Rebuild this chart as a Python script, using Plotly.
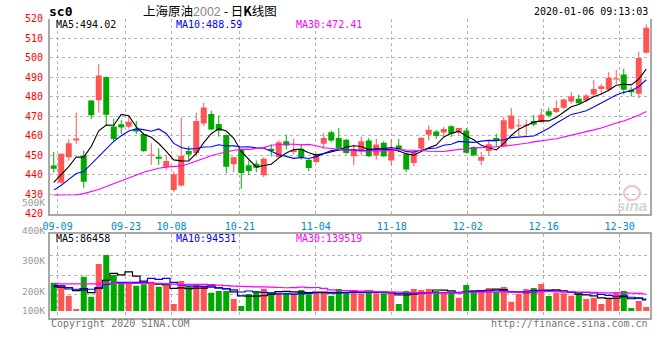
import plotly.graph_objects as go

# ---------------- data ----------------
tick_labels = ["09-09", "09-23", "10-08", "10-21", "11-04", "11-18", "12-02", "12-16", "12-30"]
tick_index = [1, 10, 16, 25, 35, 45, 55, 65, 75]

opens = [444.6, 435.8, 448.8, 457.5, 449.6, 478.0, 478.1, 490.0, 464.6, 465.8,
         464.5, 463.1, 460.8, 449.8, 449.1, 444.0, 432.1, 434.3, 452.0, 450.9,
         466.2, 471.0, 465.9, 460.2, 445.2, 452.9, 444.7, 445.5, 439.6, 453.2,
         448.9, 457.0, 451.5, 453.2, 447.6, 446.4, 455.8, 461.7, 458.7, 457.8,
         449.3, 451.8, 457.5, 449.8, 456.3, 447.2, 454.9, 450.6, 445.9, 453.2,
         460.4, 462.1, 461.6, 464.7, 461.8, 462.6, 454.1, 447.0, 452.1, 458.7,
         454.5, 463.5, 464.7, 465.0, 467.4, 466.9, 472.4, 472.0, 474.2, 477.5,
         478.8, 478.0, 481.0, 483.9, 483.4, 488.7, 491.3, 483.4, 481.4, 502.5]
highs = [451.6, 450.8, 458.0, 471.8, 452.3, 478.2, 496.6, 490.2, 468.6, 468.0,
         470.0, 467.4, 461.0, 456.0, 453.4, 450.0, 441.5, 469.3, 454.6, 471.7,
         476.8, 472.7, 470.3, 460.5, 449.2, 453.2, 447.2, 447.2, 448.9, 455.4,
         457.5, 460.5, 458.3, 455.8, 447.8, 451.0, 461.2, 462.6, 463.8, 458.3,
         455.3, 459.5, 458.7, 458.3, 457.0, 458.3, 458.3, 450.9, 452.7, 459.0,
         465.2, 462.9, 464.5, 465.2, 464.0, 463.8, 454.5, 451.6, 457.5, 460.9,
         469.5, 474.1, 468.6, 468.1, 470.6, 473.7, 474.2, 478.0, 478.8, 482.2,
         481.0, 481.4, 488.5, 486.5, 492.5, 493.6, 494.2, 484.8, 503.0, 517.0]
lows = [441.0, 435.3, 447.1, 455.8, 433.2, 468.5, 471.8, 464.8, 456.8, 460.8,
        463.5, 460.8, 451.5, 444.9, 444.9, 442.3, 430.9, 433.8, 447.4, 449.5,
        464.8, 462.8, 459.4, 440.6, 441.1, 432.7, 439.6, 441.3, 438.7, 449.3,
        448.6, 452.9, 450.3, 447.6, 441.8, 445.9, 453.2, 456.6, 452.4, 450.3,
        444.7, 449.8, 449.0, 447.6, 449.0, 444.7, 451.5, 441.3, 444.2, 452.4,
        457.5, 458.3, 459.5, 459.2, 460.1, 450.7, 449.4, 444.8, 449.9, 454.5,
        454.1, 463.0, 460.1, 460.4, 464.7, 466.4, 469.5, 471.5, 473.7, 476.3,
        476.3, 477.1, 479.7, 481.0, 482.7, 486.5, 481.0, 480.0, 479.2, 502.0]
closes = [443.0, 450.6, 456.0, 458.5, 436.3, 470.4, 490.8, 470.7, 458.2, 464.1,
          467.1, 462.0, 452.0, 450.3, 448.1, 446.9, 440.1, 449.5, 450.2, 467.4,
          474.4, 463.1, 462.5, 444.0, 448.8, 440.8, 441.8, 443.5, 448.1, 452.0,
          456.5, 454.9, 452.4, 448.9, 443.3, 450.3, 458.7, 457.5, 453.2, 451.0,
          453.2, 457.0, 449.3, 455.4, 449.3, 453.2, 452.9, 442.6, 451.5, 458.8,
          462.9, 459.7, 463.3, 460.9, 463.8, 451.1, 449.9, 449.0, 455.5, 457.5,
          467.8, 470.3, 465.2, 465.7, 465.7, 470.6, 470.3, 474.1, 478.5, 480.0,
          476.6, 480.5, 483.9, 485.3, 489.6, 489.4, 483.4, 482.2, 499.8, 515.3]
volumes = [229500, 210600, 124200, 16200, 278100, 116100, 380700, 453600, 291600, 224100,
           234900, 205200, 216000, 237600, 197100, 205200, 56700, 243000, 205200, 218700,
           205200, 148500, 162000, 162000, 97200, 40500, 137700, 162000, 180900, 153900,
           148500, 148500, 143100, 170100, 135000, 148500, 148500, 124200, 178200, 151200,
           170100, 143100, 162000, 143100, 143100, 143100, 56700, 162000, 178200, 170100,
           178200, 162000, 156600, 151200, 108000, 210600, 162000, 170100, 186300, 156600,
           194400, 75600, 137700, 178200, 186300, 218700, 121500, 148500, 143100, 124200,
           143100, 97200, 108000, 56700, 102600, 151200, 162000, 24300, 81000, 32400]

# moving-average values at the start of the window (read off the picture,
# they depend on sessions before the first candle)
ma5_head = [436.0, 440.0, 444.0, 449.0]
ma10_head = [432.0, 434.5, 437.5, 440.5, 441.5, 445.5, 449.5, 453.5, 457.0]
ma30_head = [429.5, 429.5, 429.5, 429.6, 430.2, 431.2, 432.3, 433.8, 435.3, 436.8,
             438.2, 439.8, 441.2, 442.2, 443.2, 443.8, 444.1, 444.4, 445.5, 446.9,
             448.4, 449.6, 450.6, 451.5, 452.4, 452.9, 452.9, 453.3, 453.8]
vma5_head = [197000, 192000, 178000, 165000]
vma10_head = [205000, 203000, 189000, 176000, 181000, 176000, 189000, 216000, 224000]
vma30_head = [219000, 219000, 219000, 219000, 219000, 219000, 220000, 222000, 224000, 224000,
              224000, 224000, 224000, 224000, 223000, 221000, 218000, 216000, 216000, 216000,
              215000, 213000, 210000, 206000, 202000, 199000, 197000, 196000, 195000]

price_ticks = [420, 430, 440, 450, 460, 470, 480, 490, 500, 510, 520]
vol_tick_text = ["500K", "400K", "300K", "200K", "100K"]
price_ma_text = ["MA5:494.02", "MA10:488.59", "MA30:472.41"]
vol_ma_text = ["MA5:86458", "MA10:94531", "MA30:139519"]

# ---------------- helpers ----------------
W, H = 660, 360
N = len(closes)
NSLOT = N


def px(x):
    return x / W


def py(y):
    return 1 - y / H


def moving(values, n, head):
    out = []
    for i in range(len(values)):
        if i >= n - 1:
            out.append(sum(values[i - n + 1:i + 1]) / n)
        else:
            out.append(head[i])
    return out


RED = "#ff5454"
GREEN = "#00a800"
MONO = "DejaVu Sans Mono"

xc = [i + 0.5 for i in range(N)]
up = [c >= o for o, c in zip(opens, closes)]
colors = [RED if u else GREEN for u in up]

ma5 = moving(closes, 5, ma5_head)
ma10 = moving(closes, 10, ma10_head)
ma30 = moving(closes, 30, ma30_head)
vma5 = moving(volumes, 5, vma5_head)
vma10 = moving(volumes, 10, vma10_head)
vma30 = moving(volumes, 30, vma30_head)

fig = go.Figure()

# wicks
for flag, col in ((True, RED), (False, GREEN)):
    wx, wy = [], []
    for i in range(N):
        if up[i] == flag:
            wx += [xc[i], xc[i], None]
            wy += [lows[i], highs[i], None]
    fig.add_trace(go.Scatter(x=wx, y=wy, mode="lines", line=dict(color=col, width=1),
                             hoverinfo="skip", showlegend=False, xaxis="x", yaxis="y"))

# bodies
body_base = [min(o, c) for o, c in zip(opens, closes)]
body_h = [max(abs(c - o), 0.45) for o, c in zip(opens, closes)]
fig.add_trace(go.Bar(x=xc, y=body_h, base=body_base, width=0.8,
                     marker=dict(color=colors, line=dict(width=0)),
                     showlegend=False, xaxis="x", yaxis="y"))

for series, col in ((ma5, "#000000"), (ma10, "#0000ff"), (ma30, "#ff00ff")):
    fig.add_trace(go.Scatter(x=xc, y=series, mode="lines", line=dict(color=col, width=1.1),
                             showlegend=False, hoverinfo="skip", xaxis="x", yaxis="y"))

# volume
fig.add_trace(go.Bar(x=xc, y=volumes, width=0.8, marker=dict(color=colors, line=dict(width=0)),
                     showlegend=False, xaxis="x2", yaxis="y2"))
for series, col in ((vma5, "#000000"), (vma10, "#0000ff"), (vma30, "#ff00ff")):
    fig.add_trace(go.Scatter(x=xc, y=series, mode="lines", line=dict(color=col, width=1.2, shape="hvh"),
                             showlegend=False, hoverinfo="skip", xaxis="x2", yaxis="y2"))

grid_x = [k * NSLOT / (NSLOT - 1) for k in tick_index]
LINE = "#a8a8a8"
GRID = "#b4b4b4"

vol_top, vol_bot, vol_zero = 234.3, 318.3, 311.0
vscale = 8100.0  # volume units per px

fig.update_layout(
    width=W, height=H, margin=dict(l=0, r=0, t=0, b=0, pad=0),
    paper_bgcolor="white", plot_bgcolor="white", barmode="overlay",
    showlegend=False, hovermode=False,
    xaxis=dict(domain=[px(50), px(650)], range=[0, NSLOT], anchor="y", automargin=False,
               tickmode="array", tickvals=grid_x, ticktext=tick_labels,
               showgrid=True, gridcolor=GRID, griddash="dot", gridwidth=1,
               showline=True, linecolor=LINE, linewidth=2, zeroline=False,
               ticks="", tickfont=dict(family=MONO, size=10, color="#0088cc"),
               ticklabelstandoff=2),
    yaxis=dict(domain=[py(213.5), py(18.5)], range=[420, 520], anchor="x", automargin=False,
               tickmode="array", tickvals=price_ticks, ticktext=[str(t) for t in price_ticks],
               showgrid=True, gridcolor=GRID, griddash="dot", gridwidth=1,
               showline=True, mirror=True, linecolor=LINE, linewidth=2, zeroline=False,
               ticks="", tickfont=dict(family=MONO, size=10, color="#ff0000"),
               ticklabelstandoff=3),
    xaxis2=dict(domain=[px(50), px(650)], range=[0, NSLOT], anchor="y2", automargin=False,
                tickmode="array", tickvals=grid_x, showticklabels=False,
                showgrid=True, gridcolor=GRID, griddash="dot", gridwidth=1,
                showline=True, mirror=True, linecolor=LINE, linewidth=2, zeroline=False, ticks=""),
    yaxis2=dict(domain=[py(vol_bot), py(vol_top)], automargin=False,
                range=[-(vol_bot - vol_zero) * vscale, (vol_zero - vol_top) * vscale], anchor="x2",
                tickmode="array",
                tickvals=[(vol_zero - 294.5) * vscale, (vol_zero - 275.1) * vscale,
                          (vol_zero - 255.7) * vscale],
                showticklabels=False, showgrid=True, gridcolor=GRID, griddash="dot", gridwidth=1,
                showline=True, mirror=True, linecolor=LINE, linewidth=2, zeroline=False, ticks=""),
)


def note(text, x, y, color="#000000", size=10, anchor="left", family=MONO, **kw):
    fig.add_annotation(text=text, x=px(x), y=py(y), xref="paper", yref="paper",
                       xanchor=anchor, yanchor="middle", showarrow=False,
                       font=dict(family=family, size=size, color=color), **kw)


# volume axis labels (evenly stepped at 30px, the last one clamped above the panel bottom)
vol_label_y = [202.0, 230.7, 260.7, 291.0, 310.7]
for t, y in zip(vol_tick_text, vol_label_y):
    note(t, 46.5, y, color="#999999", anchor="right", size=9.5)

note("<b>sc0</b>", 47, 11.5, size=13)
note('上海原油<span style="color:#888888;font-family:Liberation Sans">2002</span> - 日<b>K</b>线图',
     141, 10.3, size=12.5, family="Noto Sans CJK SC")
note("2020-01-06 09:13:03", 650, 11.3, anchor="right")

ma_cols = ["#000000", "#0000ff", "#ff00ff"]
ma_x = [54, 174, 294]
for t, c, x in zip(price_ma_text, ma_cols, ma_x):
    note(t, x, 24.3, color=c)
for t, c, x in zip(vol_ma_text, ma_cols, ma_x):
    note(t, x, 238.6, color=c)

note("Copyright 2020 SINA.COM", 49, 323.0, color="#777777")
note("http://finance.sina.com.cn", 650, 323.3, color="#777777", anchor="right")

# sina watermark
fig.add_shape(type="circle", xref="paper", yref="paper",
              x0=px(624), x1=px(640), y0=py(200), y1=py(186),
              line=dict(color="#f0c4c4", width=2), fillcolor="rgba(0,0,0,0)")
note("<b><i>sina</i></b>", 649, 205.5, color="#d4d4d4", size=15, anchor="right", family="Liberation Sans")

fig.write_html("out.html", config={"displayModeBar": False, "staticPlot": True},
               post_script="document.body.style.margin='0px';document.body.style.overflow='hidden';")
